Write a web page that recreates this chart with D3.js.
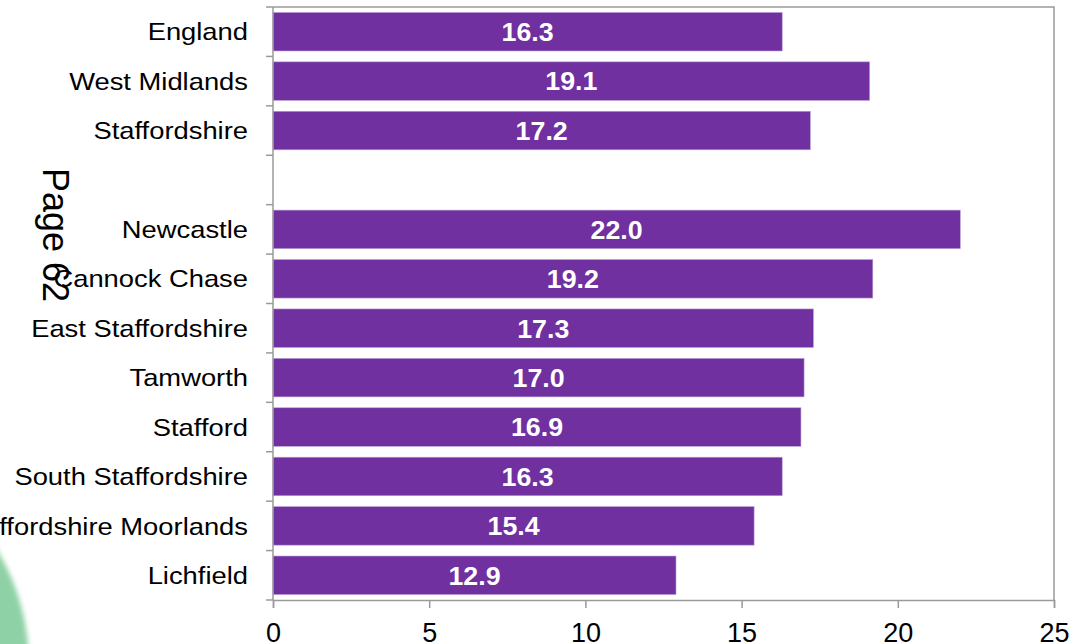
<!DOCTYPE html>
<html>
<head>
<meta charset="utf-8">
<script src="https://cdn.jsdelivr.net/npm/d3@7"></script>
<style>
  html, body { margin: 0; padding: 0; background: #fff; }
  svg { display: block; font-family: "Liberation Sans", Arial, sans-serif; }
</style>
</head>
<body>
<svg id="chart" width="1070" height="644"></svg>
<script>
// Areas, top to bottom; the empty entry leaves a gap between the comparators and the districts
const categories = [
  "England", "West Midlands", "Staffordshire", "",
  "Newcastle", "Cannock Chase", "East Staffordshire", "Tamworth",
  "Stafford", "South Staffordshire", "Staffordshire Moorlands", "Lichfield"
];
const values = [16.3, 19.1, 17.2, null, 22.0, 19.2, 17.3, 17.0, 16.9, 16.3, 15.4, 12.9];
const xTicks = [0, 5, 10, 15, 20, 25];

const svg = d3.select("#chart");
const W = 1070, H = 644;
const margin = { left: 273, right: 16, top: 7, bottom: 44 };
const plotW = W - margin.left - margin.right;
const plotH = H - margin.top - margin.bottom;
const textStretch = 1.14;

const defs = svg.append("defs");
defs.append("filter").attr("id", "soft")
  .attr("x", "-50%").attr("y", "-50%").attr("width", "200%").attr("height", "200%")
  .append("feGaussianBlur").attr("stdDeviation", 2.5);

// Decorative green disc in the lower-left corner of the page
svg.append("circle")
  .attr("cx", -195).attr("cy", 665).attr("r", 224)
  .attr("fill", "#8fd1a6")
  .attr("filter", "url(#soft)");

const g = svg.append("g").attr("transform", `translate(${margin.left},${margin.top})`);

const x = d3.scaleLinear().domain([0, 25]).range([0, plotW]);
const y = d3.scaleBand().domain(d3.range(categories.length)).range([0, plotH]).paddingInner(0.22).paddingOuter(0.11);

// Plot frame (top and right edges)
g.append("path")
  .attr("d", `M0,0H${plotW}V${plotH}`)
  .attr("fill", "none").attr("stroke", "#9a9a9a").attr("stroke-width", 1.5);

// Bars
const rows = values.map((v, i) => ({ v, i, name: categories[i] })).filter(d => d.v !== null);
g.selectAll("rect.bar").data(rows).join("rect")
  .attr("class", "bar")
  .attr("x", x(0))
  .attr("y", d => y(d.i))
  .attr("width", d => x(d.v) - x(0))
  .attr("height", y.bandwidth())
  .attr("fill", "#7030a0")
  .attr("stroke", "#b9a0d6").attr("stroke-width", 0.6);

// Value labels centred inside each bar
g.selectAll("text.val").data(rows).join("text")
  .attr("class", "val")
  .attr("transform", d => `translate(${x(d.v / 2)},${y(d.i) + y.bandwidth() / 2}) scale(1.03,1)`)
  .attr("dy", "0.36em")
  .attr("text-anchor", "middle")
  .attr("fill", "#fff")
  .attr("font-weight", "bold")
  .attr("font-size", 26)
  .text(d => d.v.toFixed(1));

// Vertical axis: line, boundary ticks and category names
const step = plotH / categories.length;
g.append("line").attr("x1", 0).attr("x2", 0).attr("y1", 0).attr("y2", plotH)
  .attr("stroke", "#9a9a9a").attr("stroke-width", 1.5);
g.selectAll("line.ytick").data(d3.range(categories.length + 1)).join("line")
  .attr("class", "ytick")
  .attr("x1", -7).attr("x2", 0)
  .attr("y1", i => i * step).attr("y2", i => i * step)
  .attr("stroke", "#9a9a9a").attr("stroke-width", 1.5);
g.selectAll("text.cat").data(categories).join("text")
  .attr("class", "cat")
  .attr("transform", (d, i) => `translate(-25,${y(i) + y.bandwidth() / 2}) scale(${textStretch},1)`)
  .attr("dy", "0.36em")
  .attr("text-anchor", "end")
  .attr("fill", "#000")
  .attr("font-size", 24)
  .text(d => d);

// Horizontal axis
const xAxis = g.append("g").attr("transform", `translate(0,${plotH})`)
  .call(d3.axisBottom(x).tickValues(xTicks).tickSize(8).tickPadding(15).tickFormat(d3.format("d")));
xAxis.select(".domain").attr("stroke", "#9a9a9a").attr("stroke-width", 1.5);
xAxis.selectAll(".tick line").attr("stroke", "#9a9a9a").attr("stroke-width", 1.5);
xAxis.selectAll(".tick text").attr("font-size", 27).attr("fill", "#000")
  .attr("font-family", "'Liberation Sans', Arial, sans-serif");

// Page number, rotated down the left margin
svg.append("text")
  .attr("transform", "translate(43,235) rotate(90)")
  .attr("text-anchor", "middle")
  .attr("font-size", 36)
  .attr("fill", "#000")
  .text("Page 62");
</script>
</body>
</html>
